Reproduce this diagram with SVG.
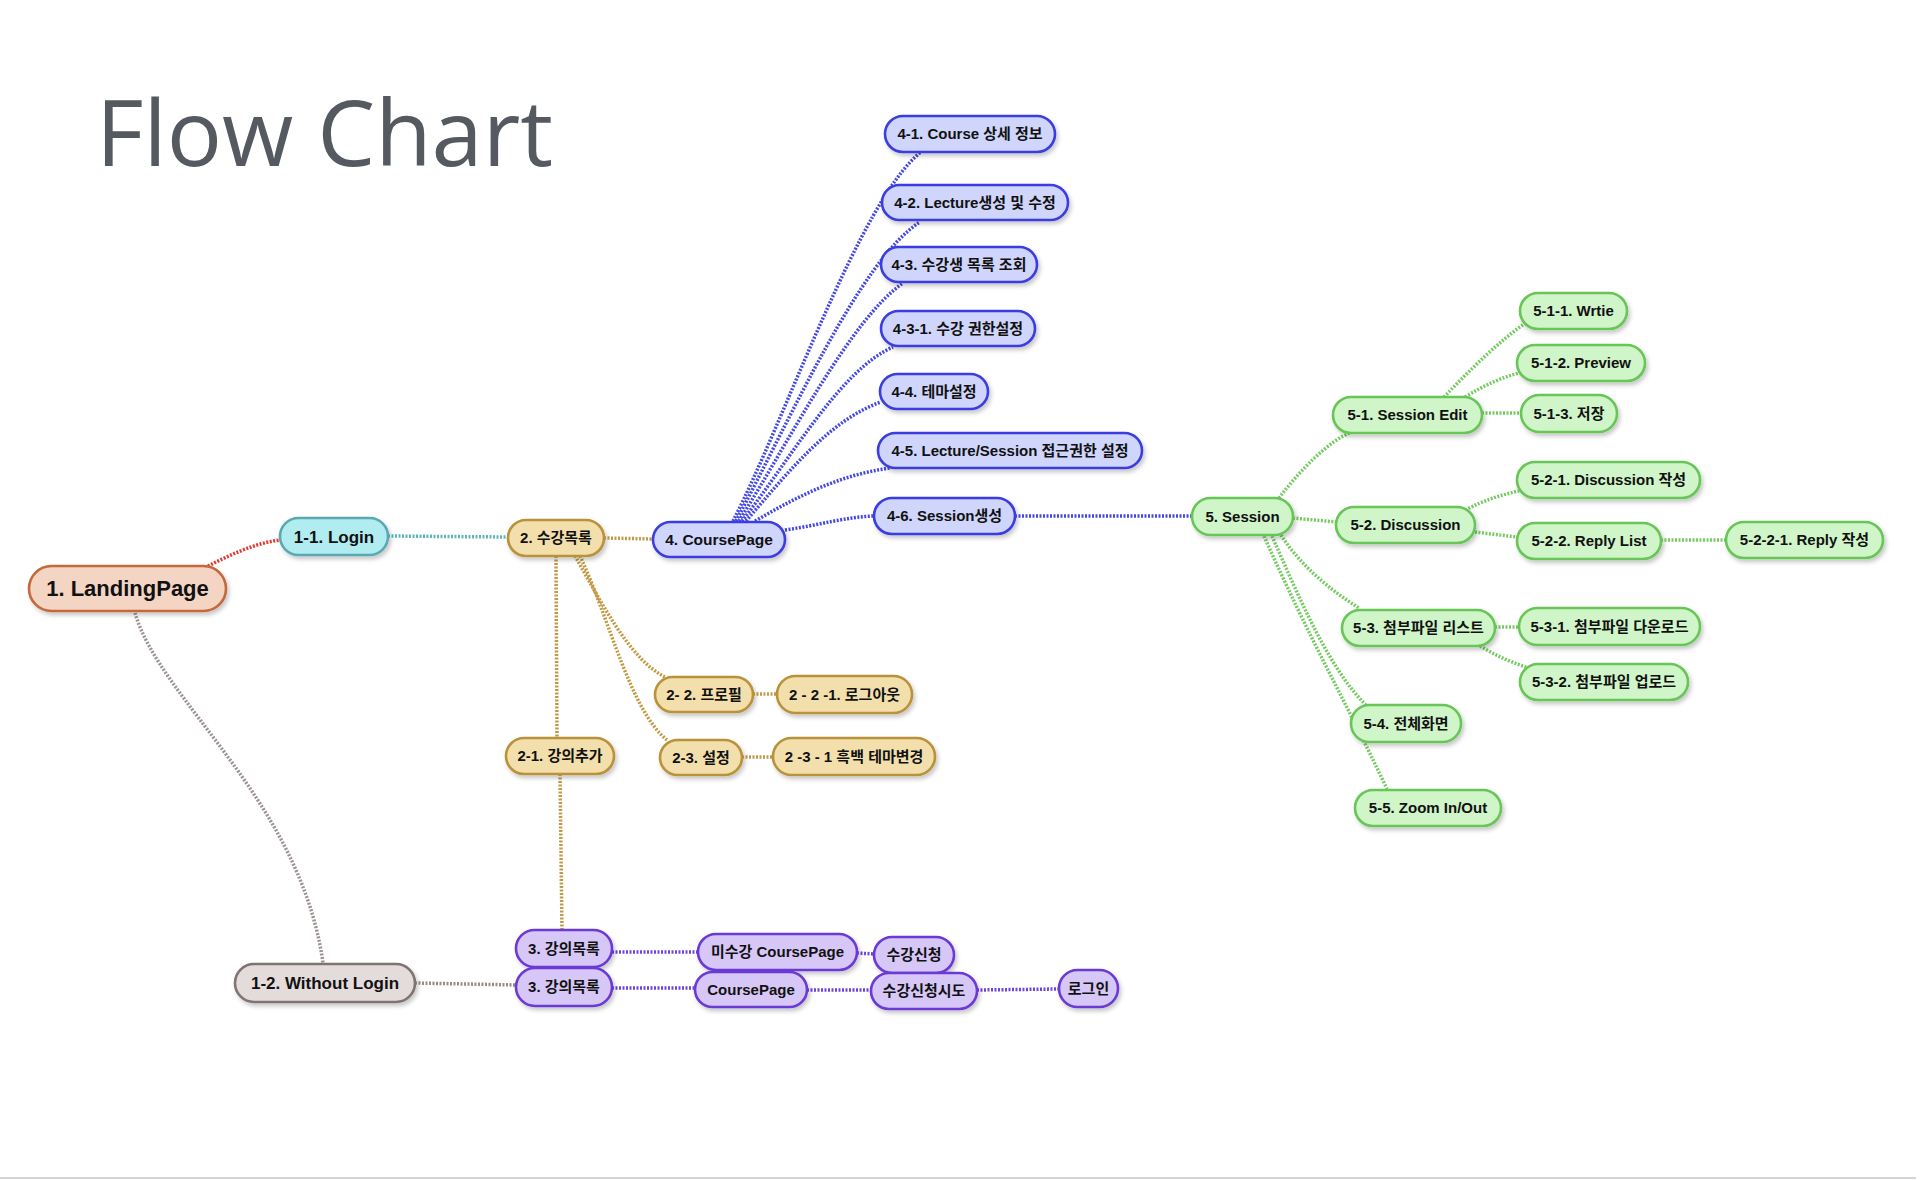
<svg xmlns="http://www.w3.org/2000/svg" width="1920" height="1180" viewBox="0 0 1920 1180">
<defs>
<filter id="sh" x="-10%" y="-20%" width="130%" height="160%">
<feDropShadow dx="2" dy="3" stdDeviation="2" flood-color="#000" flood-opacity="0.22"/>
</filter>
<style>
.n rect{stroke-width:2.6;filter:url(#sh)}
.n text{font-family:"Liberation Sans","Noto Sans CJK KR",sans-serif;font-weight:bold;font-size:15px;text-anchor:middle;fill:#111}
.peach rect{fill:#f4d5c4;stroke:#c4693a}
.teal rect{fill:#b1edf0;stroke:#5aa9b0}
.gold rect{fill:#f3dfac;stroke:#b9923b}
.blue rect{fill:#cfd5fb;stroke:#3b3de0}
.green rect{fill:#cff5c9;stroke:#67c656}
.gray rect{fill:#e4dcdb;stroke:#7f7373}
.purple rect{fill:#d6c7f7;stroke:#6b3ad4}
#connectors path{fill:none;stroke-width:3.5;stroke-dasharray:2 1.5}
.cr{stroke:#e23b2f}.ct{stroke:#5bb6b8}.cg{stroke:#9d9391}.cy{stroke:#c29a45}.cb{stroke:#4348e6}.cn{stroke:#76cb63}.cw{stroke:#978b86}.cp{stroke:#6d45e0}
.title{font-family:"Open Sans","DejaVu Sans",sans-serif;font-size:92px;fill:#555a61}
</style>
</defs>
<rect width="1920" height="1180" fill="#fff"/>
<text class="title" x="96" y="166">Flow Chart</text>
<line x1="0" y1="1178" x2="1916" y2="1178" stroke="#d4d4d4" stroke-width="2"/>

<g id="connectors">
<path class="cr" d="M208,566 C230,555 255,543 280,540"/>
<path class="ct" d="M388,536 L508,537"/>
<path class="cg" d="M135,613 C160,700 300,800 323,963"/>
<path class="cy" d="M604,538 L653,539"/>
<path class="cy" d="M556,556 L557,738"/>
<path class="cy" d="M575,556 C600,600 630,660 665,677"/>
<path class="cy" d="M580,556 C610,620 630,710 667,740"/>
<path class="cy" d="M753,694 L777,694"/>
<path class="cy" d="M742,757 L773,757"/>
<path class="cy" d="M560,774 L562,930"/>
<path class="cb" d="M733,521 C785,420 860,200 921,152"/>
<path class="cb" d="M736,521 C790,420 860,260 920,222"/>
<path class="cb" d="M739,521 C790,440 850,320 903,283"/>
<path class="cb" d="M742,521 C790,460 840,370 893,347"/>
<path class="cb" d="M746,521 C790,470 830,420 881,402"/>
<path class="cb" d="M755,521 C800,495 840,475 890,468"/>
<path class="cb" d="M785,530 C820,525 845,517 874,516"/>
<path class="cb" d="M1015,516 L1192,516"/>
<path class="cn" d="M1279,498 C1300,470 1330,440 1350,433"/>
<path class="cn" d="M1293,518 L1336,522"/>
<path class="cn" d="M1444,397 C1470,370 1500,340 1527,322"/>
<path class="cn" d="M1465,397 C1485,385 1500,378 1519,373"/>
<path class="cn" d="M1482,413 L1521,413"/>
<path class="cn" d="M1465,510 C1485,500 1500,495 1519,491"/>
<path class="cn" d="M1475,532 L1517,537"/>
<path class="cn" d="M1661,540 L1726,540"/>
<path class="cn" d="M1281,535 C1300,565 1330,590 1359,608"/>
<path class="cn" d="M1272,536 C1300,600 1330,670 1366,705"/>
<path class="cn" d="M1264,536 C1310,640 1345,700 1387,789"/>
<path class="cn" d="M1495,627 L1519,627"/>
<path class="cn" d="M1480,646 C1495,655 1510,662 1526,667"/>
<path class="cw" d="M415,983 L517,985"/>
<path class="cp" d="M612,952 L698,952"/>
<path class="cp" d="M857,953 L874,954"/>
<path class="cp" d="M612,988 L695,988"/>
<path class="cp" d="M807,990 L871,990"/>
<path class="cp" d="M977,990 L1059,989"/>
</g>

<g id="n-1" class="n peach"><rect x="29" y="566" width="197" height="45" rx="22.5"/><text x="127.5" y="596" style="font-size:22px">1. LandingPage</text></g>
<g id="n-1-1" class="n teal"><rect x="280" y="518" width="108" height="37" rx="18.5"/><text x="334" y="542.5" style="font-size:17px">1-1. Login</text></g>
<g id="n-1-2" class="n gray"><rect x="235" y="964" width="180" height="38" rx="19"/><text x="325" y="989" style="font-size:17px">1-2. Without Login</text></g>

<g id="n-2" class="n gold"><rect x="508" y="520" width="96" height="36" rx="18"/><text x="556" y="543.3">2. 수강목록</text></g>
<g id="n-2-1" class="n gold"><rect x="506" y="738" width="108" height="36" rx="18"/><text x="560" y="761.3">2-1. 강의추가</text></g>
<g id="n-2-2" class="n gold"><rect x="655" y="677" width="98" height="35" rx="17.5"/><text x="704" y="699.8">2- 2. 프로필</text></g>
<g id="n-2-2-1" class="n gold"><rect x="777" y="676" width="135" height="37" rx="18.5"/><text x="844.5" y="699.8">2 - 2 -1. 로그아웃</text></g>
<g id="n-2-3" class="n gold"><rect x="660" y="740" width="82" height="35" rx="17.5"/><text x="701" y="762.8">2-3. 설정</text></g>
<g id="n-2-3-1" class="n gold"><rect x="773" y="738" width="162" height="37" rx="18.5"/><text x="854" y="761.8">2 -3 - 1 흑백 테마변경</text></g>

<g id="n-4" class="n blue"><rect x="653" y="522" width="132" height="35" rx="17.5"/><text x="719" y="545" style="font-size:15.5px">4. CoursePage</text></g>
<g id="n-4-1" class="n blue"><rect x="885" y="116" width="170" height="36" rx="18"/><text x="970" y="139.3">4-1. Course 상세 정보</text></g>
<g id="n-4-2" class="n blue"><rect x="882" y="185" width="186" height="35" rx="17.5"/><text x="975" y="207.8">4-2. Lecture생성 및 수정</text></g>
<g id="n-4-3" class="n blue"><rect x="881" y="247" width="156" height="35" rx="17.5"/><text x="959" y="269.8">4-3. 수강생 목록 조회</text></g>
<g id="n-4-3-1" class="n blue"><rect x="881" y="311" width="154" height="35" rx="17.5"/><text x="958" y="333.8">4-3-1. 수강 권한설정</text></g>
<g id="n-4-4" class="n blue"><rect x="880" y="374" width="108" height="35" rx="17.5"/><text x="934" y="396.8">4-4. 테마설정</text></g>
<g id="n-4-5" class="n blue"><rect x="878" y="433" width="264" height="35" rx="17.5"/><text x="1010" y="455.8">4-5. Lecture/Session 접근권한 설정</text></g>
<g id="n-4-6" class="n blue"><rect x="874" y="498" width="141" height="36" rx="18"/><text x="944.5" y="521.3">4-6. Session생성</text></g>

<g id="n-5" class="n green"><rect x="1192" y="498" width="101" height="37" rx="18.5"/><text x="1242.5" y="521.8">5. Session</text></g>
<g id="n-5-1" class="n green"><rect x="1333" y="397" width="149" height="36" rx="18"/><text x="1407.5" y="420.3">5-1. Session Edit</text></g>
<g id="n-5-1-1" class="n green"><rect x="1520" y="293" width="107" height="36" rx="18"/><text x="1573.5" y="316.3">5-1-1. Wrtie</text></g>
<g id="n-5-1-2" class="n green"><rect x="1517" y="345" width="128" height="36" rx="18"/><text x="1581" y="368.3">5-1-2. Preview</text></g>
<g id="n-5-1-3" class="n green"><rect x="1521" y="395" width="96" height="37" rx="18.5"/><text x="1569" y="418.8">5-1-3. 저장</text></g>
<g id="n-5-2" class="n green"><rect x="1336" y="507" width="139" height="36" rx="18"/><text x="1405.5" y="530.3">5-2. Discussion</text></g>
<g id="n-5-2-1" class="n green"><rect x="1517" y="462" width="183" height="36" rx="18"/><text x="1608.5" y="485.3">5-2-1. Discussion 작성</text></g>
<g id="n-5-2-2" class="n green"><rect x="1517" y="523" width="144" height="36" rx="18"/><text x="1589" y="546.3">5-2-2. Reply List</text></g>
<g id="n-5-2-2-1" class="n green"><rect x="1726" y="522" width="157" height="36" rx="18"/><text x="1804.5" y="545.3">5-2-2-1. Reply 작성</text></g>
<g id="n-5-3" class="n green"><rect x="1342" y="610" width="153" height="36" rx="18"/><text x="1418.5" y="633.3">5-3. 첨부파일 리스트</text></g>
<g id="n-5-3-1" class="n green"><rect x="1519" y="608" width="181" height="37" rx="18.5"/><text x="1609.5" y="631.8">5-3-1. 첨부파일 다운로드</text></g>
<g id="n-5-3-2" class="n green"><rect x="1520" y="664" width="168" height="36" rx="18"/><text x="1604" y="687.3">5-3-2. 첨부파일 업로드</text></g>
<g id="n-5-4" class="n green"><rect x="1351" y="705" width="110" height="37" rx="18.5"/><text x="1406" y="728.8">5-4. 전체화면</text></g>
<g id="n-5-5" class="n green"><rect x="1355" y="790" width="146" height="36" rx="18"/><text x="1428" y="813.3">5-5. Zoom In/Out</text></g>

<g id="n-3a" class="n purple"><rect x="516" y="930" width="96" height="37" rx="18.5"/><text x="564" y="953.8">3. 강의목록</text></g>
<g id="n-3b" class="n purple"><rect x="516" y="968" width="96" height="38" rx="19"/><text x="564" y="992.3">3. 강의목록</text></g>
<g id="n-uncourse" class="n purple"><rect x="698" y="934" width="159" height="36" rx="18"/><text x="777.5" y="957.3">미수강 CoursePage</text></g>
<g id="n-apply" class="n purple"><rect x="874" y="937" width="80" height="36" rx="18"/><text x="914" y="960.3">수강신청</text></g>
<g id="n-course" class="n purple"><rect x="695" y="972" width="112" height="35" rx="17.5"/><text x="751" y="994.8">CoursePage</text></g>
<g id="n-tryapply" class="n purple"><rect x="871" y="973" width="106" height="36" rx="18"/><text x="924" y="996.3">수강신청시도</text></g>
<g id="n-login2" class="n purple"><rect x="1059" y="970" width="59" height="37" rx="18.5"/><text x="1088.5" y="993.8">로그인</text></g>
</svg>
